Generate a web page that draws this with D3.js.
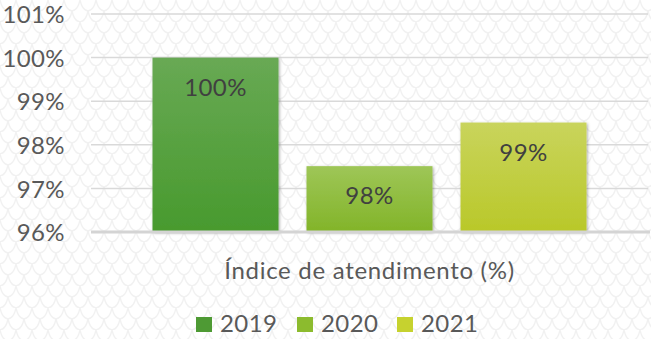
<!DOCTYPE html>
<html>
<head>
<meta charset="utf-8">
<script src="https://cdn.jsdelivr.net/npm/d3@7"></script>
<style>
  html, body { margin: 0; padding: 0; background: #fff; }
  svg { display: block; font-family: Lato, "Open Sans", sans-serif; }
</style>
</head>
<body>
<svg id="chart" width="651" height="339"></svg>
<script>
// Data
const categories = ["Índice de atendimento (%)"];
const series = ["2019", "2020", "2021"];
const values = [0.99999, 0.9751, 0.9851];
const tickValues = [0.96, 0.97, 0.98, 0.99, 1.00, 1.01];
const tickLabels = ["96%", "97%", "98%", "99%", "100%", "101%"];
const seriesColors = ["#4e9a34", "#8cbb2e", "#c6d22f"];
const gradientStops = [["#68a954", "#489a2e"], ["#9ec657", "#82b429"], ["#c9d45c", "#b9c829"]];

const svg = d3.select("#chart");
const W = 651, H = 339;
const plot = { left: 91, right: 648, top: 14, bottom: 232 };
const FS = 24;

const defs = svg.append("defs");

// Faint scale-like background texture
const pat = defs.append("pattern")
  .attr("id", "scales").attr("patternUnits", "userSpaceOnUse")
  .attr("width", 16).attr("height", 22);
pat.append("rect").attr("width", 16).attr("height", 22).attr("fill", "#ffffff");
[[0, 0], [8, 11], [-8, 11], [0, 22]].forEach(([ox, oy]) => {
  pat.append("path")
    .attr("d", `M${ox},${oy} Q${ox + 2},${oy + 10} ${ox + 8},${oy + 11} Q${ox + 14},${oy + 10} ${ox + 16},${oy}`)
    .attr("fill", "none").attr("stroke", "#f1f1f1").attr("stroke-width", 1.3);
});
svg.append("rect").attr("width", W).attr("height", H).attr("fill", "url(#scales)");

// Bar gradients and shadow
series.forEach((s, i) => {
  const g = defs.append("linearGradient").attr("id", "grad" + i)
    .attr("x1", 0).attr("y1", 0).attr("x2", 0).attr("y2", 1);
  g.append("stop").attr("offset", "0%").attr("stop-color", gradientStops[i][0]);
  g.append("stop").attr("offset", "100%").attr("stop-color", gradientStops[i][1]);
});
const f = defs.append("filter").attr("id", "shadow")
  .attr("x", "-10%").attr("y", "-10%").attr("width", "120%").attr("height", "120%");
f.append("feDropShadow").attr("dx", 1).attr("dy", 1).attr("stdDeviation", 1.8)
  .attr("flood-color", "#000").attr("flood-opacity", 0.35);

// Scales
const y = d3.scaleLinear().domain([0.96, 1.01]).range([plot.bottom, plot.top]);
const x0 = d3.scaleBand().domain(categories).range([plot.left, plot.right]).paddingOuter(0.1028);
const x1 = d3.scaleBand().domain(series)
  .range([x0(categories[0]), x0(categories[0]) + x0.bandwidth()])
  .paddingInner(0.182).paddingOuter(0.091);

// Gridlines
svg.append("g").selectAll("line")
  .data(tickValues.slice(1))
  .join("line")
  .attr("x1", plot.left).attr("x2", plot.right)
  .attr("y1", d => y(d)).attr("y2", d => y(d))
  .attr("stroke", "#d9d9d9").attr("stroke-width", 1.5);

// Y axis labels
const yAxis = d3.axisLeft(y).tickValues(tickValues)
  .tickFormat((d, i) => tickLabels[i]).tickSize(0).tickPadding(0);
const yg = svg.append("g").attr("transform", `translate(${plot.left - 26},0)`).call(yAxis);
yg.select(".domain").remove();
yg.selectAll("text")
  .attr("font-size", FS).attr("fill", "#595959")
  .attr("font-family", "Lato, 'Open Sans', sans-serif")
  .attr("letter-spacing", 0.4)
  .attr("dy", "0.36em");

// Bars
const data = series.map((s, i) => ({ s, v: values[i], i }));
svg.append("g").selectAll("rect")
  .data(data)
  .join("rect")
  .attr("x", d => x1(d.s))
  .attr("width", x1.bandwidth())
  .attr("y", d => y(d.v))
  .attr("height", d => y(0.96) - y(d.v))
  .attr("fill", d => `url(#grad${d.i})`)
  .attr("filter", "url(#shadow)");

// Baseline
svg.append("line")
  .attr("x1", plot.left).attr("x2", plot.right + 2)
  .attr("y1", y(0.96)).attr("y2", y(0.96))
  .attr("stroke", "#d4d4d4").attr("stroke-width", 3);

// Data labels
const fmt = d3.format(".0%");
svg.append("g").selectAll("text")
  .data(data)
  .join("text")
  .attr("x", d => x1(d.s) + x1.bandwidth() / 2)
  .attr("y", d => y(d.v) + 38)
  .attr("text-anchor", "middle")
  .attr("font-size", FS).attr("fill", "#404040")
  .attr("letter-spacing", 0.4)
  .text(d => fmt(d.v));

// Category axis title
svg.append("text")
  .attr("x", x0(categories[0]) + x0.bandwidth() / 2)
  .attr("y", 279)
  .attr("text-anchor", "middle")
  .attr("font-size", FS).attr("fill", "#595959")
  .attr("letter-spacing", 0.7)
  .text(categories[0]);

// Legend
const legendX = [196, 297, 397];
const lg = svg.append("g").selectAll("g")
  .data(data).join("g")
  .attr("transform", d => `translate(${legendX[d.i]},317)`);
lg.append("rect").attr("width", 16).attr("height", 15)
  .attr("fill", d => seriesColors[d.i]);
lg.append("text").attr("x", 24).attr("y", 15)
  .attr("font-size", FS).attr("fill", "#595959")
  .attr("letter-spacing", 0.4)
  .text(d => d.s);
</script>
</body>
</html>
